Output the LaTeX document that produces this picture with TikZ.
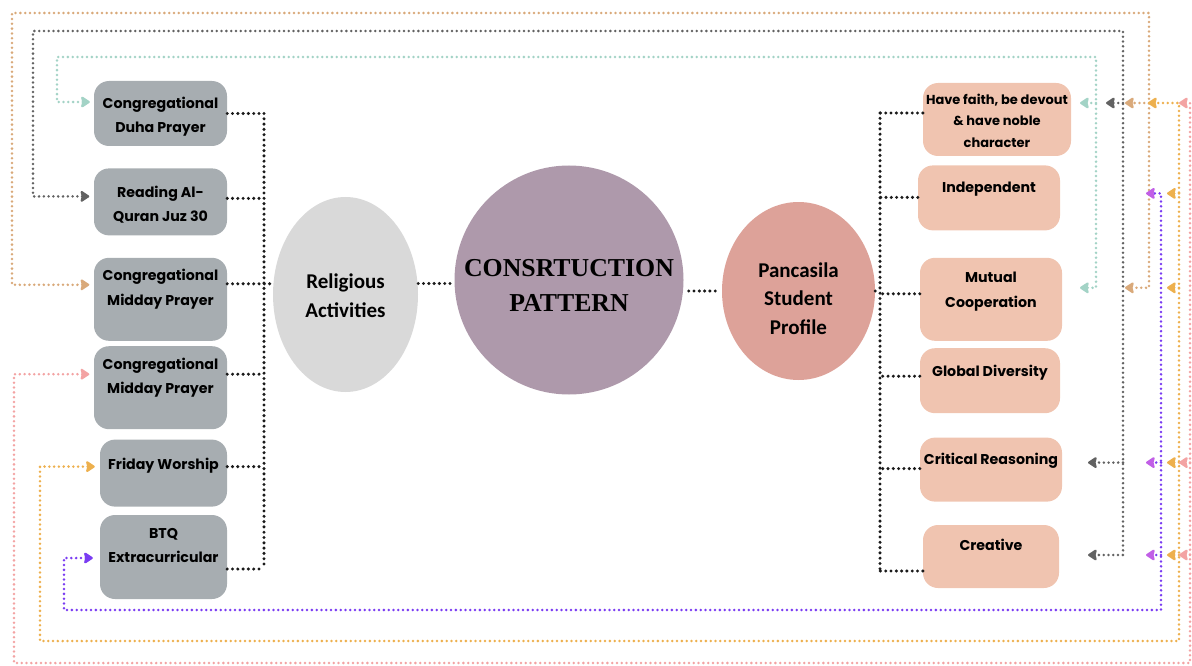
\documentclass[tikz,border=0pt]{standalone}
\usepackage{fontspec}
\newfontfamily\boxfont{Poppins}
\newfontfamily\ovalfont{Carlito}
\newfontfamily\corefont{Liberation Serif}
\usetikzlibrary{arrows.meta,positioning,shapes.geometric}
\definecolor{actgray}{HTML}{A7ADB1}
\definecolor{relgray}{HTML}{D9D9D9}
\definecolor{mauve}{HTML}{AE99AB}
\definecolor{salmon}{HTML}{DDA299}
\definecolor{peach}{HTML}{F0C4B0}
\definecolor{linkc}{HTML}{1A1A1A}
\definecolor{tealc}{HTML}{A3D3C6}
\definecolor{grayc}{HTML}{626262}
\definecolor{tanc}{HTML}{D9A97A}
\definecolor{orangec}{HTML}{EDB04E}
\definecolor{pinkc}{HTML}{F3A3A3}
\definecolor{violetc}{HTML}{7A3CF2}
\definecolor{magc}{HTML}{C15FE6}

\begin{document}
\begin{tikzpicture}[x=1pt,y=-1pt,
  act/.style={fill=actgray,rounded corners=15pt,align=center,inner xsep=2pt,
    inner ysep=0pt,minimum width=133pt,
    font=\boxfont\bfseries\fontsize{14.2}{24.5}\selectfont},
  trait/.style={act,fill=peach,minimum width=142pt},
  tb/.style 2 args={text height=#1pt,text depth=#2pt},
  oval/.style={ellipse,inner sep=0pt,align=center,
    font=\ovalfont\bfseries\fontsize{21}{28.3}\selectfont},
  link/.style={draw=linkc,line width=3.4pt,line cap=round,dash pattern=on 0pt off 5.3pt},
  feed/.style={draw=#1,line width=2.8pt,line cap=round,dash pattern=on 0pt off 4.8pt},
  fin/.tip={Stealth[length=10pt,width=13pt,inset=1.5pt,round]},
  finm/.tip={Stealth[length=10pt,width=13pt,inset=1.5pt,round,color=magc]}
]
\useasboundingbox (0,0) rectangle (1192,666);

% activities
\node[act,tb={51.5}{13.5}] (duha) at (160.5,113.5) {Congregational\\Duha Prayer};
\node[act,tb={53.5}{13.5},below=22pt of duha] (quran) {Reading Al-\\Quran Juz 30};
\node[act,tb={47.5}{35.5},below=22pt of quran] (midday) {Congregational\\Midday Prayer};
\node[act,tb={47.5}{35.5},below=5pt of midday] (midday2) {Congregational\\Midday Prayer};
\node[act,tb={30}{37},minimum width=127pt,below=10pt of midday2,xshift=3pt] (friday) {Friday Worship};
\node[act,tb={47.5}{36.5},minimum width=127pt,below=8pt of friday] (btq) {BTQ\\Extracurricular};

% middle
\node[oval,fill=relgray,tb={45}{0},minimum width=145pt,minimum height=195pt] (rel) at (345.5,294.5) {Religious\\Activities};
\node[circle,fill=mauve,minimum size=229pt,inner sep=0pt,align=center,tb={63}{0},
  font=\corefont\bfseries\fontsize{25.8}{35}\selectfont] (core) at (569,280) {CONSRTUCTION\\PATTERN};
\node[oval,fill=salmon,tb={86}{0},minimum width=153pt,minimum height=178pt] (profile) at (798.5,291) {Pancasila\\Student\\Profile};

% profile values
\node[trait,tb={64.5}{8.5},minimum width=148pt,
  font=\boxfont\bfseries\fontsize{13}{21.5}\selectfont] (faith) at (997,119.5) {Have faith, be devout\\\& have noble\\character};
\node[trait,tb={27}{38},below=9pt of faith,xshift=-8pt] (indep) {Independent};
\node[trait,tb={49.5}{33.5},below=27pt of indep,xshift=2pt] (mutual) {Mutual\\Cooperation};
\node[trait,tb={28}{37},minimum width=140pt,below=7pt of mutual,xshift=-1pt] (global) {Global Diversity};
\node[trait,tb={27}{37},below=24pt of global,xshift=1pt] (critical) {Critical Reasoning};
\node[trait,tb={25}{38},minimum width=136pt,below=23pt of critical] (creative) {Creative};

% black tree, left
\coordinate (lbus) at (264,283);
\coordinate (quran out) at ([yshift=3.5pt]quran.east);
\coordinate (midday out) at ([yshift=15.5pt]midday.east);
\coordinate (midday2 out) at ([yshift=13.5pt]midday2.east);
\coordinate (friday out) at ([yshift=6.5pt]friday.east);
\coordinate (btq out) at ([yshift=-12pt]btq.east);
\draw[link] (duha.east) -- (duha.east -| lbus);
\draw[link] (quran out) -- (quran out -| lbus);
\draw[link] (midday out) -- (midday out -| rel.west);
\draw[link] (midday2 out) -- (midday2 out -| lbus);
\draw[link] (friday out) -- (friday out -| lbus);
\draw[link] (btq out) -- (btq out -| lbus);
\draw[link] (duha.east -| lbus) -- (btq out -| lbus);

% black tree, middle
\draw[link] ([yshift=11pt]rel.east) -- ([yshift=11pt]rel.east -| core.west);
\draw[link,shorten <=5pt,shorten >=5pt] (profile.west -| core.east) -- (profile.west);

% black tree, right
\coordinate (rbus) at (880,291);
\coordinate (faith out) at ([yshift=6.5pt]faith.west);
\coordinate (indep out) at ([yshift=0.5pt]indep.west);
\coordinate (mutual out) at ([yshift=5.5pt]mutual.west);
\coordinate (global out) at ([yshift=4.5pt]global.west);
\coordinate (critical out) at ([yshift=1pt]critical.west);
\coordinate (creative out) at ([yshift=-14.5pt]creative.west);
\draw[link] (profile.east) -- (rbus |- profile.east);
\draw[link] (faith out) -- (faith out -| rbus);
\draw[link] (indep out) -- (indep out -| rbus);
\draw[link] (mutual out) -- (mutual out -| rbus);
\draw[link] (global out) -- (global out -| rbus);
\draw[link] (critical out) -- (critical out -| rbus);
\draw[link] (creative out) -- (creative out -| rbus);
\draw[link] (faith out -| rbus) -- (creative out -| rbus);

% coloured feedback lines
\coordinate (duha in) at ([xshift=-4pt,yshift=11.5pt]duha.west);
\coordinate (quran in) at ([xshift=-4.5pt,yshift=5.5pt]quran.west);
\coordinate (midday in) at ([xshift=-4.5pt,yshift=14.5pt]midday.west);
\coordinate (midday2 in) at ([xshift=-4.5pt,yshift=13.5pt]midday2.west);
\coordinate (friday in) at ([xshift=-5pt,yshift=6.5pt]friday.west);
\coordinate (btq in) at ([xshift=-7pt,yshift=-1pt]btq.west);
\coordinate (faith r) at ([yshift=16.5pt]faith.east);
\coordinate (indep r) at ([yshift=4.5pt]indep.east);
\coordinate (mutual r) at ([yshift=11.5pt]mutual.east);
\coordinate (critical r) at ([yshift=7pt]critical.east);
\coordinate (creative r) at ([yshift=1.5pt]creative.east);

\coordinate (teal top) at (57,57);
\coordinate (teal bus) at (1096,57);
\coordinate (gray top) at (33,31);
\coordinate (gray bus) at (1123,31);
\coordinate (tan top) at (12,13);
\coordinate (tan bus) at (1149,13);
\coordinate (orange low) at (40,641);
\coordinate (orange bus) at (1179,641);
\coordinate (pink low) at (14,663);
\coordinate (pink bus) at (1190,663);
\coordinate (violet low) at (64,610);
\coordinate (violet bus) at (1161,610);

\draw[feed=tealc,{fin}-{fin}] (duha in) -| (teal top) -- (teal bus) -- (mutual r -| teal bus) -- ++(-16,0);
\draw[feed=tealc,-{fin}] (faith r -| teal bus) -- ++(-16,0);

\draw[feed=grayc,{fin}-{fin}] (quran in) -| (gray top) -- (gray bus) -- (creative r -| gray bus) -- ++(-35,0);
\draw[feed=grayc,-{fin}] (faith r -| gray bus) -- ++(-17,0);
\draw[feed=grayc,-{fin}] (critical r -| gray bus) -- ++(-35,0);

\draw[feed=tanc,{fin}-{fin}] (midday in) -| (tan top) -- (tan bus) -- (mutual r -| tan bus) -- ++(-24,0);
\draw[feed=tanc,-{fin}] (faith r -| tan bus) -- ++(-24,0);

\draw[feed=orangec,{fin}-{fin}] (friday in) -| (orange low) -- (orange bus) -- (faith r -| orange bus) -- ++(-31,0);
\draw[feed=orangec,-{fin}] (indep r -| orange bus) -- ++(-12,0);
\draw[feed=orangec,-{fin}] (mutual r -| orange bus) -- ++(-12,0);
\draw[feed=orangec,-{fin}] (critical r -| orange bus) -- ++(-12,0);
\draw[feed=orangec,-{fin}] (creative r -| orange bus) -- ++(-12,0);

\draw[feed=pinkc,{fin}-{fin}] (midday2 in) -| (pink low) -- (pink bus) -- (faith r -| pink bus) -- ++(-11,0);
\draw[feed=pinkc,-{fin}] (critical r -| pink bus) -- ++(-11,0);
\draw[feed=pinkc,-{fin}] (creative r -| pink bus) -- ++(-11,0);

\draw[feed=violetc,{fin}-{finm}] (btq in) -| (violet low) -- (violet bus) -- (indep r -| violet bus) -- ++(-15,0);
\draw[feed=violetc,-{finm}] (critical r -| violet bus) -- ++(-15,0);
\draw[feed=violetc,-{finm}] (creative r -| violet bus) -- ++(-15,0);
\end{tikzpicture}
\end{document}
